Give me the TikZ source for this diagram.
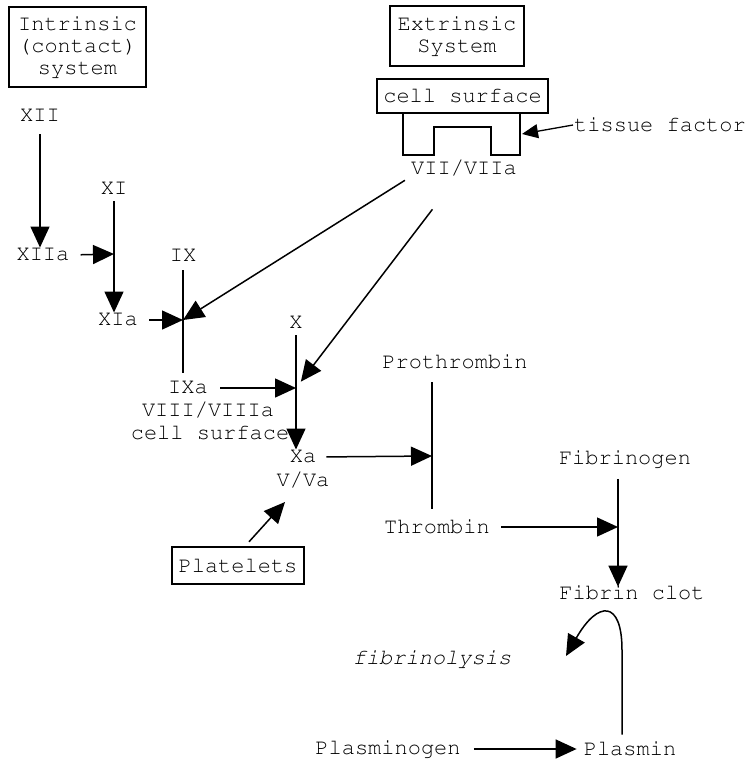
\documentclass[tikz,border=0pt]{standalone}
\usepackage[T1]{fontenc}
\usepackage{tikz}
\usetikzlibrary{calc,arrows.meta,positioning}
\newcommand\coagfont{\fontfamily{pcr}\selectfont}

\begin{document}
\begin{tikzpicture}[x=1pt,y=-1pt,
  lbl/.style={font={\coagfont\fontsize{22}{22}\selectfont}, inner sep=1pt},
  sysbox/.style={lbl, draw, line width=1.6pt, align=center, inner sep=0pt},
  rxn/.style={line width=1.7pt},
  act/.style={line width=1.5pt, -{Triangle[length=21pt,width=19pt]}},
  smallact/.style={line width=1.3pt, -{Triangle[length=16pt,width=14pt]}}]
\useasboundingbox (0,0) rectangle (749,761);
\node[sysbox, minimum width=137pt, minimum height=80pt] (intr) at (77.5,47) {Intrinsic\\(contact)\\system};
\node[sysbox, minimum width=134pt, minimum height=60pt] (extr) at (457,36) {Extrinsic\\System};
\node[sysbox, minimum width=171pt, minimum height=34pt] (cellsurf) at (462.5,96) {cell surface};
\draw[rxn] (403,113) -- (403,155) -- (434,155) -- (434,127) -- (491,127) -- (491,155) -- (520,155) -- (520,113);
\coordinate (tfedge) at (522,134);
\node[lbl, anchor=west] (tissue) at (573,125) {tissue factor};
\node[lbl] (VIIa) at (464,168) {VII/VIIa};
\node[sysbox, minimum width=132pt, minimum height=37pt] (platelets) at (238,565.5) {Platelets};

\node[lbl] (XII) at (40,115) {XII};
\node[lbl] (XIIa) at (43,255) {XIIa};
\node[lbl] (XI) at (114,188) {XI};
\node[lbl] (XIa) at (118,320) {XIa};
\node[lbl] (IX) at (183,255) {IX};
\node[lbl] (IXa) at (188,388) {IXa};
\node[lbl] (VIIIa) at (208,410) {VIII/VIIIa};
\node[lbl] (cs) at (210,433) {cell surface};
\node[lbl] (X) at (296,322) {X};
\node[lbl] (Xa) at (303,457) {Xa};
\node[lbl] (Va) at (303,480) {V/Va};
\node[lbl] (prothr) at (455,362) {Prothrombin};
\node[lbl] (thr) at (437,527) {Thrombin};
\node[lbl] (fibgen) at (625,459) {Fibrinogen};
\node[lbl] (clot) at (632,593) {Fibrin clot};
\node[lbl, font={\coagfont\itshape\fontsize{22}{22}\selectfont}] (lysis) at (432,659) {fibrinolysis};
\node[lbl] (plgen) at (388,749) {Plasminogen};
\node[lbl] (plasmin) at (630,749) {Plasmin};

\coordinate (jXI) at (114,254);
\coordinate (jIX) at (183,320);
\coordinate (jX) at (296,388);
\coordinate (jPro) at (432,456);
\coordinate (jFib) at (618,527);
\coordinate (vain) at (285,502);
\coordinate (lysistip) at (566,656);

\draw[act, shorten <=12pt] (XII.south) -- (XII.south |- XIIa.north);
\draw[act, shorten <=6pt] (XI.south) -- (XI.south |- XIa.north);
\draw[act, shorten <=10pt] (XIIa.east) -- (jXI);
\draw[rxn, shorten <=8pt, shorten >=8pt] (IX.south) -- (IX.south |- IXa.north);
\draw[act, shorten <=10pt] (XIa.east) -- (jIX);
\draw[act, shorten <=6pt] (VIIa.south west) -- (jIX);
\draw[act, shorten <=6pt] (X.south) -- (X.south |- Xa.north);
\draw[act, shorten <=11pt] (IXa.east) -- (jX);
\draw[act, shorten <=52pt, shorten >=8pt] (VIIa.center) -- (jX);
\draw[act, shorten <=9pt] (Xa.east) -- (jPro);
\draw[rxn, shorten <=12pt, shorten >=10pt] (jPro |- prothr.south) -- (jPro |- thr.north);
\draw[act, shorten <=10pt] (thr.east) -- (jFib);
\draw[act, shorten <=10pt, shorten >=-2pt] (jFib |- fibgen.south) -- (jFib |- clot.north);
\draw[act, shorten <=12pt, shorten >=6pt] (plgen.east) -- (plasmin.west);
\draw[act, shorten <=6pt] ([xshift=-8pt]plasmin.north) -- (622,650) .. controls (622,600) and (598,600) .. (lysistip);
\draw[act, shorten <=6pt] ([xshift=7pt]platelets.north) -- (vain);
\draw[smallact] (tissue.west) -- (tfedge);
\end{tikzpicture}
\end{document}
